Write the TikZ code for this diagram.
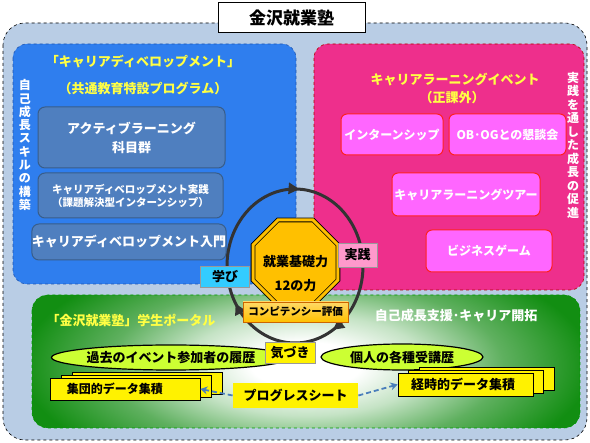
\documentclass[tikz,border=0pt]{standalone}
\usepackage{fontspec}
\setmainfont{Noto Sans CJK JP}
\usetikzlibrary{shapes.geometric,arrows.meta,decorations.markings}
\definecolor{outerbg}{HTML}{B9CDE5}
\definecolor{bluepan}{HTML}{2F7EEE}
\definecolor{blueedge}{HTML}{1F55B0}
\definecolor{bluebox}{HTML}{4F7FBF}
\definecolor{blueboxedge}{HTML}{385D8A}
\definecolor{pinkpan}{HTML}{EE2F8C}
\definecolor{pinkbox}{HTML}{FF66FF}
\definecolor{pinkboxedge}{HTML}{FF2020}
\definecolor{gg}{HTML}{128E12}
\definecolor{ggmid}{HTML}{5FB05F}
\definecolor{gglight}{HTML}{C5E3C5}
\definecolor{hdryellow}{HTML}{FFFF44}
\definecolor{oct}{HTML}{FFC000}
\definecolor{cyanlab}{HTML}{33CCFF}
\definecolor{pinklab}{HTML}{FF99CC}
\definecolor{limeell}{HTML}{CCFF33}
\definecolor{arrblue}{HTML}{4A7EBB}
\definecolor{circ}{HTML}{333333}
\pgfdeclareradialshading{greenglow}{\pgfpoint{0bp}{0bp}}{color(0bp)=(white); color(5bp)=(white); color(11bp)=(gglight); color(18bp)=(ggmid); color(26bp)=(gg); color(50bp)=(gg)}
\begin{document}
\begin{tikzpicture}[x=1pt,y=-1pt,
  every node/.style={inner sep=0pt,font=\bfseries},
  f17/.style={font=\fontsize{17}{19}\selectfont\bfseries},
  f13/.style={font=\fontsize{13}{16}\selectfont\bfseries},
  f12/.style={font=\fontsize{12}{15}\selectfont\bfseries},
  f10/.style={font=\fontsize{10.5}{13}\selectfont\bfseries},
  vt/.style={align=center,font=\fontsize{12}{13.3}\selectfont\bfseries,text=white},
  bbox/.style={draw=blueboxedge,line width=1pt,fill=bluebox,rounded corners=7pt,text=white,align=center},
  pbox/.style={draw=pinkboxedge,line width=1pt,fill=pinkbox,rounded corners=6pt,text=white,align=center},
  lab/.style={draw=black!40,line width=0.5pt,align=center},
  ybox/.style={draw=black,line width=0.8pt,fill=yellow,align=center},
  ell/.style={ellipse,draw=black,line width=1.2pt,fill=limeell},
  progarrow/.style={draw=arrblue,line width=1.8pt,dash pattern=on 5pt off 3pt,-{Stealth[length=7pt,width=8pt]}}
]
\useasboundingbox (0,0) rectangle (590,443);
% outer region
\draw[fill=outerbg,draw=black,dashed,line width=0.6pt,rounded corners=22pt] (3,23) rectangle (587,440);
% blue panel
\draw[fill=bluepan,draw=blueedge,dashed,line width=0.6pt,rounded corners=14pt] (13,44) rectangle (296,284);
% pink panel
\draw[fill=pinkpan,draw=red!70!black,dashed,line width=0.6pt,rounded corners=14pt] (314,44) rectangle (584,290);
% green panel
\begin{scope}
\clip[rounded corners=16pt] (32,295) rectangle (580,428);
\shade[shading=greenglow] (32,250) rectangle (580,480);
\end{scope}
\draw[draw=green!60!black,dashed,line width=0.6pt,rounded corners=16pt] (32,295) rectangle (580,428);
% title
\node[draw=black,line width=1pt,fill=white,minimum width=147pt,minimum height=30pt,f17] (title) at (291.5,18) {金沢就業塾};
% blue panel content
\node[f13,text=hdryellow] (bh1) at (143,62) {「キャリアディベロップメント」};
\node[f13,text=hdryellow] (bh2) at (143,88) {（共通教育特設プログラム）};
\node[vt] (bv) at (25,145) {自\\己\\成\\長\\ス\\キ\\ル\\の\\構\\築};
\node[bbox,f13,minimum width=187pt,minimum height=61pt] (act) at (131.5,137.5) {アクティブラーニング\\[3pt]科目群};
\node[bbox,f10,minimum width=185pt,minimum height=45pt] (prac) at (130.5,195.5) {キャリアディベロップメント実践\\（課題解決型インターンシップ）};
\node[bbox,f13,minimum width=186pt,minimum height=36pt] (intro) at (129,242) {キャリアディベロップメント入門};
% pink panel content
\node[f13,text=hdryellow] (ph1) at (455,80) {キャリアラーニングイベント};
\node[f13,text=hdryellow] (ph2) at (452,98) {（正課外）};
\node[vt,font=\fontsize{12}{13.5}\selectfont\bfseries] (pv) at (573,145) {実\\践\\を\\通\\し\\た\\成\\長\\の\\促\\進};
\node[pbox,f12,minimum width=102pt,minimum height=41pt] (intern) at (392,134.5) {インターンシップ};
\node[pbox,f12,minimum width=117pt,minimum height=41pt] (obog) at (507.5,134.5) {OB･OGとの懇談会};
\node[pbox,f12,minimum width=148pt,minimum height=43pt] (tour) at (466,194.5) {キャリアラーニングツアー};
\node[pbox,f12,minimum width=126pt,minimum height=42pt] (biz) at (489,251) {ビジネスゲーム};
% green panel content
\node[f13,text=hdryellow] (gh1) at (131,320) {「金沢就業塾」学生ポータル};
\node[f13,text=white] (gh2) at (456,316) {自己成長支援･キャリア開拓};
\node[ell,f13,minimum width=176pt,minimum height=25pt] (past) at (171,357.5) {過去のイベント参加者の履歴};
\node[ell,f13,minimum width=162pt,minimum height=26pt] (pers) at (402,357) {個人の各種受講歴};
% stacked documents
\node[ybox,minimum width=150pt,minimum height=22pt] (grpb2) at (147,383) {};
\node[ybox,minimum width=150pt,minimum height=22pt] (grpb1) at (136,386) {};
\node[ybox,f12,minimum width=150pt,minimum height=22pt,text width=140pt,align=left] (grp) at (125,389) {\hspace*{12pt}集団的データ集積};
\node[ybox,minimum width=135pt,minimum height=23pt] (chrb2) at (486.5,379) {};
\node[ybox,minimum width=135pt,minimum height=23pt] (chrb1) at (476,382) {};
\node[ybox,f13,minimum width=135pt,minimum height=23pt,text width=125pt,align=left] (chr) at (465.5,384.5) {\hspace*{8pt}経時的データ集積};
\node[ybox,draw=none,f13,minimum width=125pt,minimum height=25pt] (prog) at (295.5,395.5) {プログレスシート};
\draw[progarrow] (prog.west) -- (grp.east);
\draw[progarrow] (prog.east) -- (chr.west);
% cycle
\draw[circ,line width=3pt,postaction={decorate},
  decoration={markings,
    mark=at position 0.16 with {\arrow{Triangle[length=11pt,width=11pt]}},
    mark=at position 0.415 with {\arrow{Triangle[length=11pt,width=11pt]}},
    mark=at position 0.76 with {\arrow{Triangle[length=11pt,width=11pt]}}}]
  (295,266) ellipse [x radius=68, y radius=77];
\node[regular polygon,regular polygon sides=8,minimum size=92pt,fill=oct,draw=black,line width=0.8pt,double=oct,double distance=3pt] (core) at (295.5,262.5) {};
\node[f13,align=center] (coretxt) at (295.5,274) {就業基礎力\\[8pt]12の力};
\node[lab,draw=orange!80!black,top color=oct!60!white,bottom color=oct,minimum width=105pt,minimum height=20pt,font=\fontsize{10.5}{12}\selectfont\bfseries] (comp) at (295.5,312) {コンピテンシー評価};
\node[lab,fill=cyanlab,f13,minimum width=49pt,minimum height=21pt] (learn) at (225,277) {学び};
\node[lab,fill=pinklab,f13,minimum width=39pt,minimum height=24pt] (pract) at (357.5,255) {実践};
\node[lab,fill=yellow,f13,minimum width=50pt,minimum height=21pt] (aware) at (290,352.5) {気づき};
\end{tikzpicture}
\end{document}
